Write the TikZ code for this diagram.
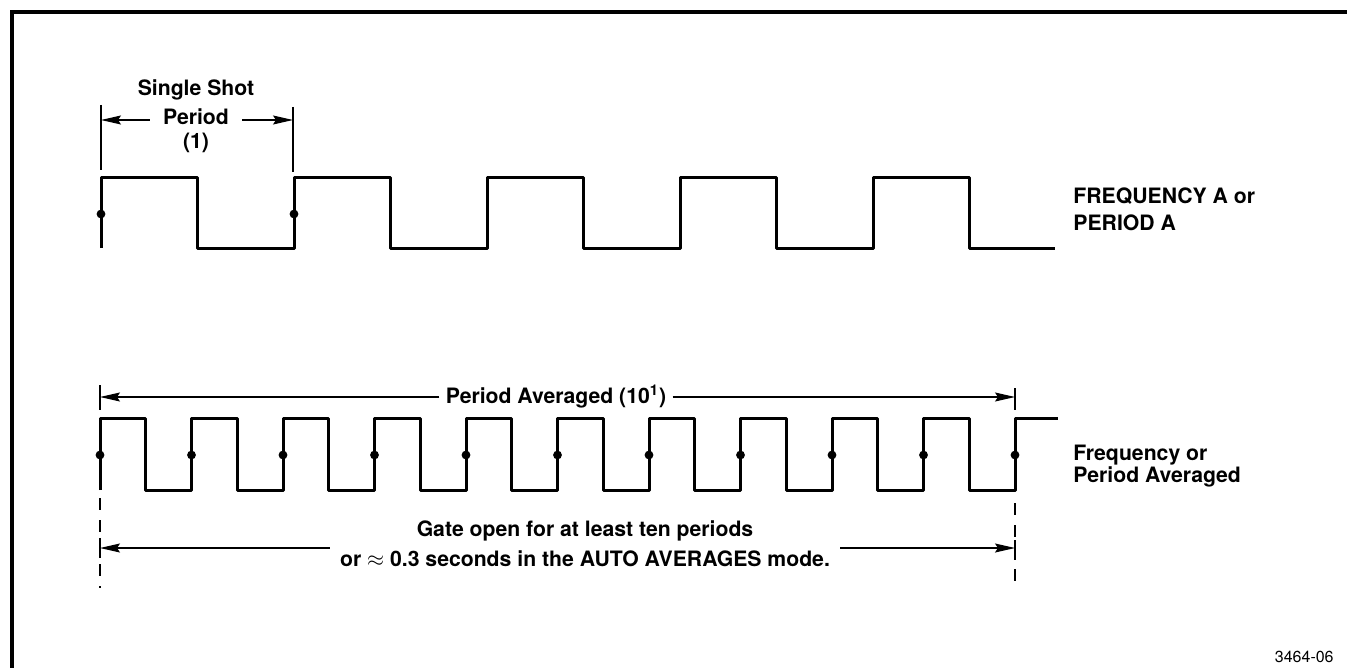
\documentclass[tikz,border=0pt]{standalone}
\usepackage{fontspec}
\setmainfont{TeX Gyre Heros}
\usepackage{tikz}
\usetikzlibrary{arrows.meta,positioning}

\begin{document}
\begin{tikzpicture}[x=0.5pt, y=-0.5pt,
  wave/.style={line width=1.5pt, line join=round},
  tick/.style={line width=0.6pt},
  dimarrow/.style={line width=0.6pt, -{Stealth[length=10pt, width=4.5pt, inset=1.5pt]}},
  lbl/.style={font=\fontsize{10.6}{11}\selectfont\bfseries, inner sep=1pt},
  sidelbl/.style={font=\fontsize{10.6}{13.5}\selectfont\bfseries, align=left, anchor=west, inner sep=0pt},
  edgedot/.style={fill=black, draw=none}]

\useasboundingbox (0,0) rectangle (1347,668);

% Frame (top and left only)
\draw[line width=1.6pt] (12,668) -- (12,12) -- (1347,12);

% Single shot waveform
\draw[wave] (101,248) -- (101,178)
  \foreach \k in {0,...,3} {
    -- ({101+193*\k+96},178) -- ({101+193*\k+96},248)
    -- ({101+193*(\k+1)},248) -- ({101+193*(\k+1)},178)
  } -- (969,178) -- (969,248) -- (1055,248);
\foreach \x in {101,294}
  \fill[edgedot] (\x,214) circle (2.2pt);

% Single shot dimension
\coordinate (ssL) at (101,120);
\coordinate (ssR) at (293,120);
\draw[tick] (101,105) -- (101,170);
\draw[tick] (293,107) -- (293,172);
\node[lbl] (ssTop) at (196,90) {Single Shot};
\node[lbl, inner xsep=6.5pt] (ssMid) at (196,117) {Period};
\node[lbl] (ssBot) at (196,143) {(1)};
\draw[dimarrow] (ssMid.west |- ssL) -- (ssL);
\draw[dimarrow] (ssMid.east |- ssR) -- (ssR);

\node[sidelbl] (lblA) at (1073,209) {FREQUENCY A or\\PERIOD A};

% Averaged waveform
\draw[wave] (100,490) -- (100,418)
  \foreach \k in {0,...,9} {
    -- ({100+91.5*\k+45.5},418) -- ({100+91.5*\k+45.5},490)
    -- ({100+91.5*(\k+1)},490) -- ({100+91.5*(\k+1)},418)
  } -- (1058,418);
\foreach \k in {0,...,10}
  \fill[edgedot] ({100+91.5*\k},455) circle (2.2pt);

\node[sidelbl, font=\fontsize{10.6}{11}\selectfont\bfseries] (lblAvg) at (1073,466) {Frequency or\\Period Averaged};

% Period averaged dimension
\coordinate (paL) at (100,397);
\coordinate (paR) at (1015,397);
\draw[tick] (100,385) -- (100,410);
\draw[tick] (1015,388) -- (1015,410);
\node[lbl, inner xsep=3pt] (paTxt) at (556,397) {Period Averaged (10\textsuperscript{1})};
\draw[dimarrow] (paTxt.west) -- (paL);
\draw[dimarrow] (paTxt.east) -- (paR);

% Gate dimension
\draw[tick, dash pattern=on 6pt off 5pt] (100,498) -- (100,588);
\draw[tick, dash pattern=on 6pt off 5pt] (1015,503) -- (1015,588);
\coordinate (gateL) at (100,548);
\coordinate (gateR) at (1015,548);
\draw[tick] (100,538) -- (100,558);
\draw[tick] (1015,540) -- (1015,560);
\node[lbl] (gateTop) at (585,531) {Gate open for at least ten periods};
\node[lbl, inner xsep=5pt] (gateBot) at (585,559) {or $\approx$ 0.3 seconds in the AUTO AVERAGES mode.};
\draw[dimarrow] (gateBot.west |- gateL) -- (gateL);
\draw[dimarrow] (gateBot.east |- gateR) -- (gateR);

\node[font=\fontsize{8}{9}\selectfont, anchor=east, inner sep=0pt] (figNo) at (1334,657) {3464-06};

\end{tikzpicture}
\end{document}
